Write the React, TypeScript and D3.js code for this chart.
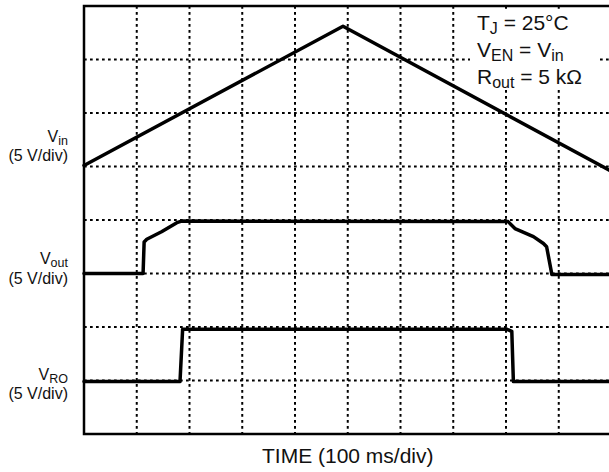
import * as d3 from "d3";

const width = 609;
const height = 472;

// time in ms (100 ms/div), voltages in V (5 V/div)
const timeDivs = [0, 100, 200, 300, 400, 500, 600, 700, 800, 900, 1000];
const voltDivs = [0, 1, 2, 3, 4, 5, 6, 7, 8];

const vinTime = [0, 491, 1000];
const vinVolts = [0.1, 13.1, -0.45];

const voutTime = [0, 112, 114, 119, 147, 176, 185, 804, 817, 852, 871, 877, 887, 1000];
const voutVolts = [0, 0, 2.95, 3.2, 3.9, 4.75, 4.9, 4.85, 4.2, 3.45, 2.8, 2.5, -0.1, -0.1];

const vroTime = [0, 182, 187, 801, 811, 814, 1000];
const vroVolts = [-0.1, -0.1, 4.8, 4.8, 4.6, -0.1, -0.1];

// ground level of each channel, in divisions from the bottom
const channels = [
  { name: "in", offset: 5, time: vinTime, volts: vinVolts },
  { name: "out", offset: 3, time: voutTime, volts: voutVolts },
  { name: "RO", offset: 1, time: vroTime, volts: vroVolts },
];

const font = "'Liberation Sans', Arial, Helvetica, sans-serif";

export default function App() {
  const left = 84;
  const right = 611.5;
  const top = 6;
  const bottom = 434;

  const x = d3.scaleLinear([0, 1000], [left, right]);
  const y = d3.scaleLinear([0, 8], [bottom, top]);
  const voltsPerDiv = 5;

  const paths = channels.map((c) => {
    const pts = c.time.map((t, i) => [t, c.offset + c.volts[i] / voltsPerDiv] as [number, number]);
    const line = d3.line<[number, number]>()
      .x((d) => x(d[0]))
      .y((d) => y(d[1]));
    return line(pts) ?? "";
  });

  return (
    <svg
      width={width}
      height={height}
      style={{ position: "absolute", left: 0, top: 0, background: "#fff" }}
      fontFamily={font}
    >
      {timeDivs.slice(1, -1).map((t) => (
        <line key={"v" + t} x1={x(t)} x2={x(t)} y1={top} y2={bottom}
          stroke="#000" strokeWidth={2} strokeDasharray="2.7 3.3" />
      ))}
      {voltDivs.slice(1, -1).map((v) => (
        <line key={"h" + v} x1={left} x2={right} y1={y(v)} y2={y(v)}
          stroke="#000" strokeWidth={2} strokeDasharray="2.7 3.3" />
      ))}

      {/* white box behind the conditions */}
      <rect x={470} y={11} width={127} height={76} fill="#fff" />

      <rect x={left} y={top} width={right - left} height={bottom - top}
        fill="none" stroke="#000" strokeWidth={2.5} />

      {paths.map((d, i) => (
        <path key={i} d={d} fill="none" stroke="#000" strokeWidth={3.5}
          strokeLinejoin="round" strokeLinecap="round" />
      ))}

      {/* channel labels */}
      <g fontSize={16} textAnchor="end" fill="#111">
        <text x={68} y={142}>V<tspan fontSize={12.5} dy={3}>in</tspan></text>
        <text x={68} y={161}>(5 V/div)</text>
        <text x={68} y={264}>V<tspan fontSize={12.5} dy={3}>out</tspan></text>
        <text x={68} y={284}>(5 V/div)</text>
        <text x={68} y={380}>V<tspan fontSize={12.5} dy={3}>RO</tspan></text>
        <text x={68} y={399}>(5 V/div)</text>
      </g>

      {/* conditions */}
      <g fontSize={21} fill="#111">
        <text x={477} y={29.5}>T<tspan fontSize={16} dy={4}>J</tspan><tspan dy={-4}> = 25°C</tspan></text>
        <text x={477} y={57}>V<tspan fontSize={16} dy={4}>EN</tspan><tspan dy={-4}> = V</tspan><tspan fontSize={16} dy={4}>in</tspan></text>
        <text x={477} y={83.5}>R<tspan fontSize={16} dy={4}>out</tspan><tspan dy={-4}> = 5 kΩ</tspan></text>
      </g>

      <text x={(left + right) / 2} y={463} fontSize={21} textAnchor="middle" fill="#111">
        TIME (100 ms/div)
      </text>
    </svg>
  );
}
